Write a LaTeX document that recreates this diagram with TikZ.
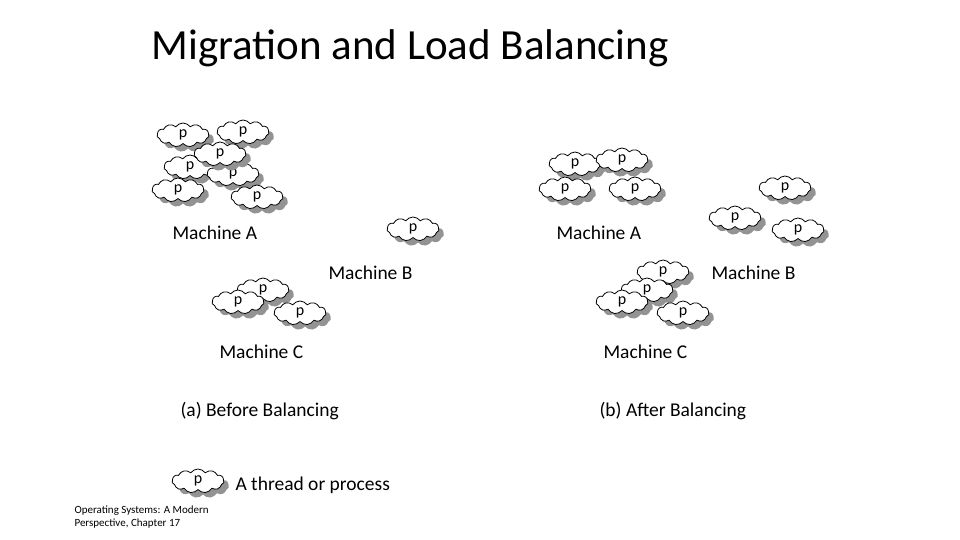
\documentclass[tikz,border=0pt]{standalone}
\usepackage{fontspec}
\setmainfont{Carlito}
\usetikzlibrary{shapes.symbols,shadows}
\begin{document}
\begin{tikzpicture}[x=1pt,y=-1pt,
  proc/.style={cloud, cloud puffs=11, cloud puff arc=110, aspect=2.2, draw=black, fill=white, line width=0.8pt,
    minimum width=52pt, minimum height=24pt, inner sep=0pt, font=\fontsize{16}{16}\selectfont,
    drop shadow={fill=gray!85, shadow xshift=5pt, shadow yshift=-5pt, opacity=1}},
  lbl/.style={font=\fontsize{19.5}{22}\selectfont, anchor=west}]
\useasboundingbox (0,0) rectangle (960,540);
\node[anchor=west, font=\fontsize{43}{46}\selectfont] (title) at (148,48) {Migration and Load Balancing};
% left
\node[proc] (a1) at (183,135) {p};
\node[proc] (a2) at (243,132) {p};
\node[proc] (a4) at (190,167) {p};
\node[proc] (a5) at (233,174) {p};
\node[proc] (a3) at (220,154) {p};
\node[proc] (a6) at (178,190) {p};
\node[proc] (a7) at (257,197) {p};
\node[proc] (a8) at (413,229) {p};
\node[lbl] (ma) at (169,233) {Machine A};
\node[lbl] (mb) at (325,273) {Machine B};
\node[proc] (b2) at (263,290) {p};
\node[proc] (b1) at (238,302) {p};
\node[proc] (b3) at (300,313) {p};
\node[lbl] (mc) at (216,352) {Machine C};
\node[lbl] (ca) at (177,411) {(a) Before Balancing};
% right
\node[proc] (r1) at (575,164) {p};
\node[proc] (r2) at (622,160) {p};
\node[proc] (r3) at (565,189) {p};
\node[proc] (r4) at (635,189) {p};
\node[proc] (r5) at (785,188) {p};
\node[proc] (r6) at (735,218) {p};
\node[proc] (r7) at (798,230) {p};
\node[lbl] (ma2) at (553,233) {Machine A};
\node[proc] (s1) at (663,272) {p};
\node[proc] (s2) at (647,290) {p};
\node[proc] (s3) at (622,302) {p};
\node[proc] (s4) at (683,313) {p};
\node[lbl] (mb2) at (708,273) {Machine B};
\node[lbl] (mc2) at (600,352) {Machine C};
\node[lbl] (cb) at (596,411) {(b) After Balancing};
% legend
\node[proc] (leg) at (198,481) {p};
\node[lbl] (legt) at (232,485) {A thread or process};
\node[anchor=north west, align=left, font=\fontsize{11}{13}\selectfont] (foot) at (71,502) {Operating Systems: A Modern\\Perspective, Chapter 17};
\end{tikzpicture}
\end{document}
